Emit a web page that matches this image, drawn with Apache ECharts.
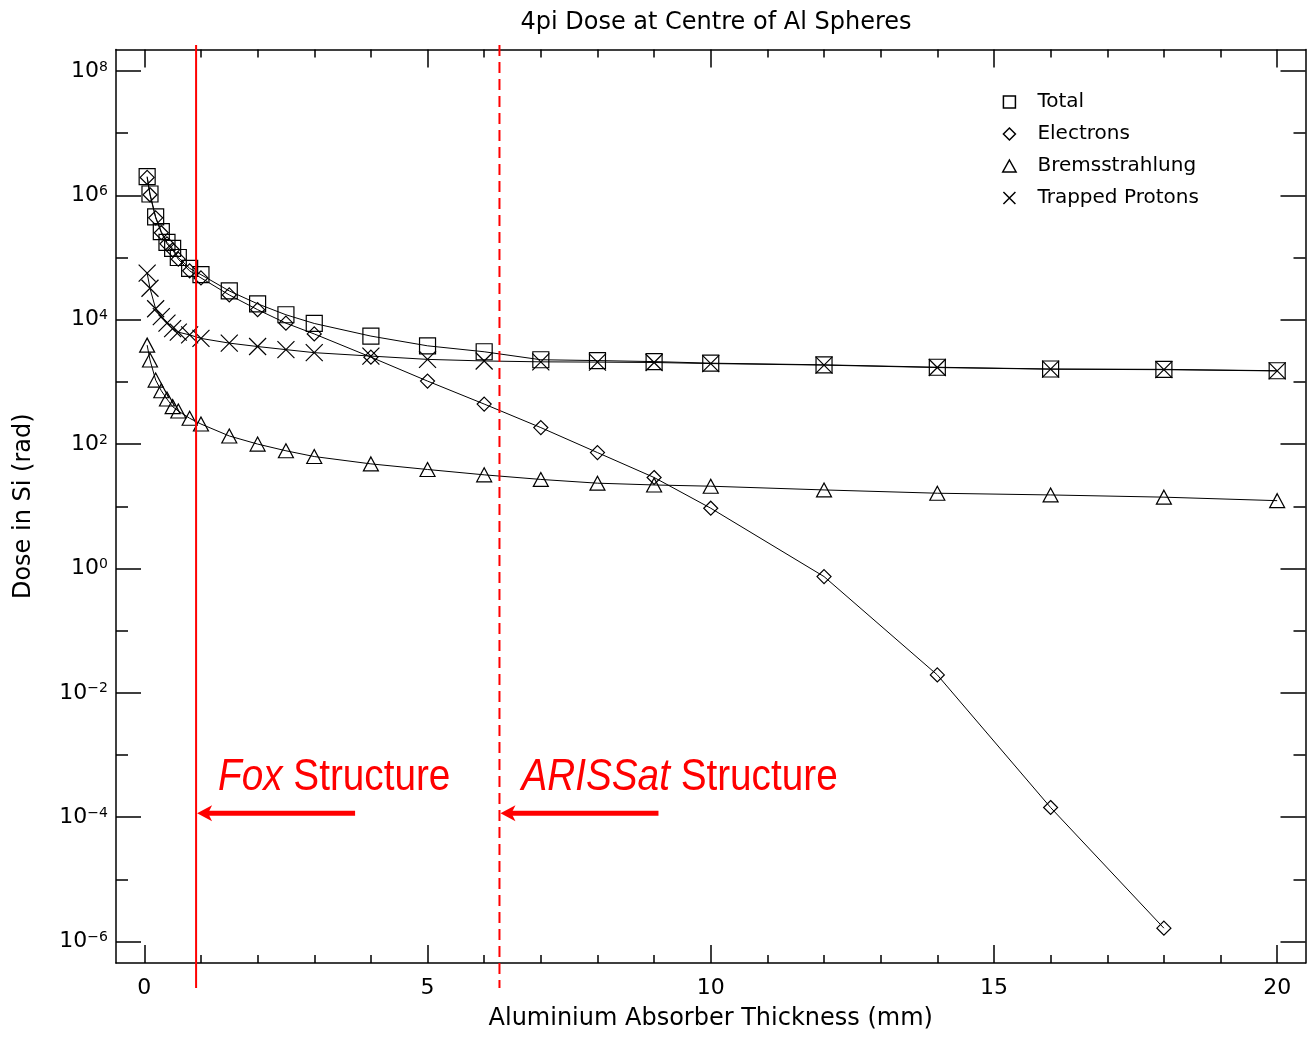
<!DOCTYPE html>
<html><head><meta charset="utf-8">
<script src="https://cdn.jsdelivr.net/npm/echarts@6/dist/echarts.min.js"></script>
<style>html,body{margin:0;padding:0;background:#fff}#c{width:1307px;height:1038px}</style>
</head><body><div id="c"></div>
<script>
// ---- data ----
const thickness = [0.05,0.1,0.2,0.3,0.4,0.5,0.6,0.8,1.0,1.5,2.0,2.5,3.0,4.0,5.0,6.0,7.0,8.0,9.0,10,12,14,16,18,20];
const total = [2.0e6,1.05e6,4.5e5,2.6e5,1.75e5,1.4e5,1.0e5,6.7e4,5.3e4,2.9e4,1.8e4,1.2e4,8.7e3,5.45e3,3.8e3,3.05e3,2.27e3,2.2e3,2.12e3,2.0e3,1.88e3,1.72e3,1.61e3,1.59e3,1.51e3];
const electrons = [1.94e6,1.02e6,4.35e5,2.5e5,1.66e5,1.33e5,9.4e4,6.1e4,4.7e4,2.5e4,1.45e4,8.8e3,5.9e3,2.5e3,1.03e3,4.4e2,1.84e2,73,29,9.3,0.74,0.0194,1.43e-4,1.64e-6,null];
const bremsstrahlung = [3.9e3,2.25e3,1.07e3,7.2e2,5.3e2,4.0e2,3.4e2,2.6e2,2.1e2,1.35e2,1.0e2,78,63,48,39,32,27,23.5,22,21,18.3,16.2,15.2,14.0,12.3];
const protons = [5.6e4,3.2e4,1.5e4,1.12e4,8.8e3,7.2e3,6.3e3,5.7e3,5.0e3,4.2e3,3.7e3,3.3e3,2.95e3,2.6e3,2.3e3,2.17e3,2.1e3,2.08e3,2.05e3,1.97e3,1.86e3,1.7e3,1.6e3,1.57e3,1.5e3];
const seriesNames = ['Total','Electrons','Bremsstrahlung','Trapped Protons'];
const xLabelValues = [0,5,10,15,20];
const xMinorValues = [1,2,3,4,6,7,8,9,11,12,13,14,16,17,18,19];
const yLabelExponents = [-6,-4,-2,0,2,4,6,8];
const yMinorExponents = [-5,-3,-1,1,3,5,7];
const foxThickness = 0.914;
const arissatThickness = 6.27;
const xRange = [-0.5, 20.5];
const yLogRange = [-6.345, 8.345];

// ---- chart ----
const FONT = 'DejaVu Sans';
const sym = {
  square: 'path://M0,0H10V10H0Z',
  diamond: 'path://M5,0L10,5L5,10L0,5Z',
  triangle: 'path://M5,0L10,9H0Z',
  cross: 'path://M0,0L10,10M10,0L0,10'
};
const yMin = Math.pow(10, yLogRange[0]), yMax = Math.pow(10, yLogRange[1]);
const yLabelVals = yLabelExponents.map(e => Math.pow(10, e));
const yMinorVals = yMinorExponents.map(e => Math.pow(10, e));

function mkSeries(name, vals, symbol, size, z) {
  const data = [];
  thickness.forEach((t, i) => { if (vals[i] != null) data.push([t, vals[i]]); });
  return {
    name, type: 'line', xAxisIndex: 0, yAxisIndex: 0, data,
    symbol, symbolSize: size, showSymbol: true, showAllSymbol: true,
    lineStyle: { color: '#000', width: 1 },
    itemStyle: { color: 'rgba(0,0,0,0)', borderColor: '#000', borderWidth: 1.2 },
    emphasis: { disabled: true }, silent: true, z
  };
}

function xAx(pos, show, values, len) {
  return {
    type: 'value', position: pos, min: xRange[0], max: xRange[1],
    axisLine: { show: show, onZero: false, lineStyle: { color: '#000', width: 1.5 } },
    axisTick: { show: true, inside: true, length: len, customValues: values, lineStyle: { color: '#000', width: 1.5 } },
    axisLabel: { show: false }, splitLine: { show: false }
  };
}
function yAx(pos, show, values, len) {
  return {
    type: 'log', position: pos, min: yMin, max: yMax,
    axisLine: { show: show, onZero: false, lineStyle: { color: '#000', width: 1.5 } },
    axisTick: { show: true, inside: true, length: len, customValues: values, lineStyle: { color: '#000', width: 1.5 } },
    axisLabel: { show: false }, splitLine: { show: false }
  };
}

const xMain = xAx('bottom', true, xLabelValues, 18);
xMain.axisLabel = { show: true, customValues: xLabelValues, margin: 14, color: '#000', fontFamily: FONT, fontSize: 22 };
xMain.name = 'Aluminium Absorber Thickness (mm)';
xMain.nameLocation = 'middle'; xMain.nameGap = 44;
xMain.nameTextStyle = { color: '#000', fontFamily: FONT, fontSize: 24 };

const yMain = yAx('left', true, yLabelVals, 25);
yMain.axisLabel = {
  show: true, customValues: yLabelVals, margin: 8,
  formatter: v => { const e = Math.round(Math.log10(v)); return '{b|10}{s|' + (e < 0 ? '\u2212' + (-e) : e) + '}'; },
  rich: {
    b: { fontFamily: FONT, fontSize: 22, color: '#000', lineHeight: 22 },
    s: { fontFamily: FONT, fontSize: 14, color: '#000', lineHeight: 13, verticalAlign: 'top' }
  }
};
yMain.name = 'Dose in Si (rad)';
yMain.nameLocation = 'middle'; yMain.nameGap = 80;
yMain.nameTextStyle = { color: '#000', fontFamily: FONT, fontSize: 24 };

const legendIcons = [sym.square, sym.diamond, sym.triangle, sym.cross];

const option = {
  animation: false,
  backgroundColor: '#fff',
  title: {
    text: '4pi Dose at Centre of Al Spheres', left: 711, top: 6, textAlign: 'center',
    textStyle: { color: '#000', fontFamily: FONT, fontSize: 24, fontWeight: 'normal' }
  },
  legend: {
    orient: 'vertical', left: 997, top: 87, itemWidth: 46, itemHeight: 12, itemGap: 12,
    selectedMode: false,
    textStyle: { color: '#000', fontFamily: FONT, fontSize: 20 },
    data: seriesNames.map((n, i) => ({
      name: n, icon: legendIcons[i],
      itemStyle: { color: 'rgba(0,0,0,0)', borderColor: '#000', borderWidth: 1.5 }
    }))
  },
  grid: { left: 116, right: 1.5, top: 49.5, bottom: 75, containLabel: false, outerBoundsMode: 'none' },
  xAxis: [xMain, xAx('top', true, xLabelValues, 18), xAx('bottom', false, xMinorValues, 8), xAx('top', false, xMinorValues, 8)],
  yAxis: [yMain, yAx('right', true, yLabelVals, 25), yAx('left', false, yMinorVals, 12), yAx('right', false, yMinorVals, 12)],
  series: [
    mkSeries(seriesNames[0], total, sym.square, 16, 2),
    mkSeries(seriesNames[1], electrons, sym.diamond, 14, 3),
    mkSeries(seriesNames[2], bremsstrahlung, sym.triangle, [15, 14], 4),
    mkSeries(seriesNames[3], protons, sym.cross, 17, 5)
  ]
};

const chart = echarts.init(document.getElementById('c'), null, { renderer: 'canvas' });
chart.setOption(option);

// ---- red annotations ----
const fx = chart.convertToPixel({ xAxisIndex: 0 }, foxThickness);
const ax = chart.convertToPixel({ xAxisIndex: 0 }, arissatThickness);
const ay = chart.convertToPixel({ yAxisIndex: 0 }, 1e-4) - 4;
const RED = '#ff0000';
const NARROW = '"Liberation Sans", Arial, sans-serif';
function arrow(x0) {
  return [
    { type: 'line', shape: { x1: x0 + 10, y1: ay, x2: x0 + 159, y2: ay }, style: { stroke: RED, lineWidth: 5 }, z: 20 },
    { type: 'polygon', shape: { points: [[x0 + 1, ay], [x0 + 16, ay - 8], [x0 + 12, ay], [x0 + 16, ay + 8]] }, style: { fill: RED }, z: 20 }
  ];
}
function label(x0, italic) {
  return {
    type: 'text', x: x0 + 22, y: ay - 36, scaleX: 0.86, z: 20,
    style: {
      text: '{i|' + italic + ' }{n|Structure}',
      verticalAlign: 'middle', align: 'left',
      rich: {
        i: { fontFamily: NARROW, fontSize: 45, fontStyle: 'italic', fill: RED },
        n: { fontFamily: NARROW, fontSize: 45, fill: RED }
      }
    }
  };
}
chart.setOption({
  graphic: [
    { type: 'line', shape: { x1: fx, y1: 45, x2: fx, y2: 988 }, style: { stroke: RED, lineWidth: 2 }, z: 20 },
    { type: 'line', shape: { x1: ax, y1: 45, x2: ax, y2: 988 }, style: { stroke: RED, lineWidth: 2, lineDash: [11, 6] }, z: 20 },
    ...arrow(fx), ...arrow(ax),
    label(fx, 'Fox'), label(ax, 'ARISSat')
  ]
});
</script>
</body></html>
